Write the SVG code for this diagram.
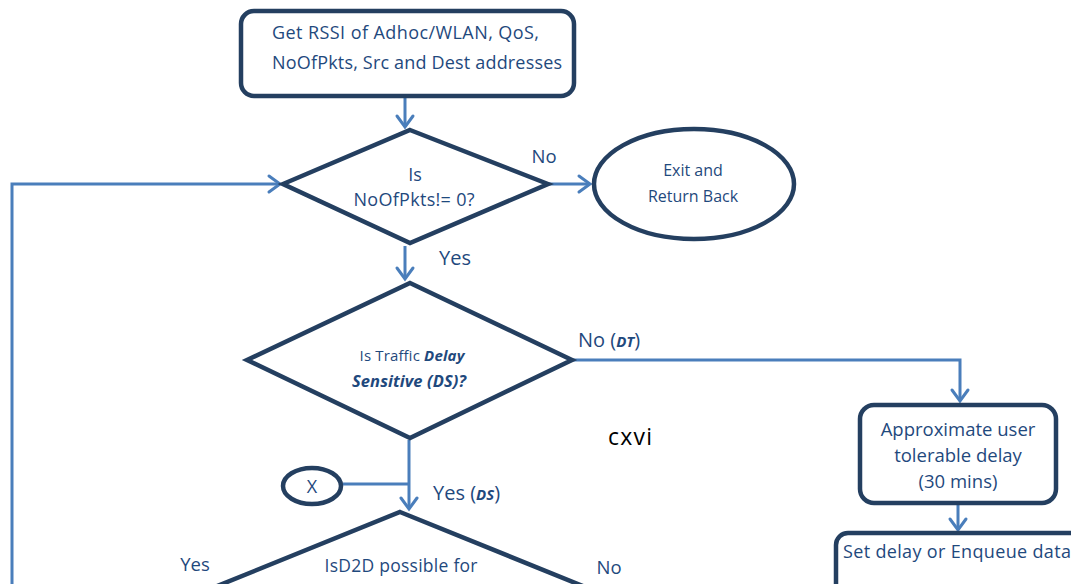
<svg xmlns="http://www.w3.org/2000/svg" width="1071" height="584" viewBox="0 0 1071 584">
  <style>
    .shape { fill: #ffffff; stroke: #243f60; stroke-width: 4.5; stroke-linejoin: miter; }
    .link { fill: none; stroke: #4a7ebb; stroke-width: 3; }
    .txt { font-family: "Open Sans", "Noto Sans", "Liberation Sans", sans-serif; fill: #1f497d; }
    .bi { font-weight: bold; font-style: italic; }
  </style>
  <defs>
    <marker id="arrow" markerUnits="userSpaceOnUse" markerWidth="30" markerHeight="30" viewBox="-15 -15 30 30" refX="0" refY="0" orient="auto">
      <path d="M-11,-8 L0,0 L-11,8" fill="none" stroke="#4a7ebb" stroke-width="3" stroke-linecap="round"/>
    </marker>
  </defs>
  <rect width="1071" height="584" fill="#ffffff"/>

  <!-- connectors -->
  <g id="connectors">
    <path class="link" d="M405,97 V127" marker-end="url(#arrow)"/>
    <path class="link" d="M548,184 H590" marker-end="url(#arrow)"/>
    <path class="link" d="M405,246 V279" marker-end="url(#arrow)"/>
    <path class="link" d="M12,584 V184 H280" marker-end="url(#arrow)"/>
    <path class="link" d="M572,360 H960 V401" marker-end="url(#arrow)"/>
    <path class="link" d="M958,505 V530" marker-end="url(#arrow)"/>
    <path class="link" d="M409,440 V509" marker-end="url(#arrow)"/>
    <path class="link" d="M343,484 H409"/>
  </g>

  <g id="get-rssi">
    <rect class="shape" x="241" y="11" width="333" height="85" rx="13"/>
    <text class="txt" x="272" y="39" font-size="18" textLength="267">Get RSSI of Adhoc/WLAN, QoS,</text>
    <text class="txt" x="272" y="69" font-size="18" textLength="290">NoOfPkts, Src and Dest addresses</text>
  </g>

  <g id="check-pkts">
    <polygon class="shape" points="410,130 548,184 410,243 283,184"/>
    <text class="txt" x="415" y="181" font-size="18" text-anchor="middle">Is</text>
    <text class="txt" x="414" y="206" font-size="18" text-anchor="middle" textLength="121">NoOfPkts!= 0?</text>
    <text class="txt" x="544" y="163" font-size="18.5" text-anchor="middle">No</text>
    <text class="txt" x="455" y="265" font-size="20" text-anchor="middle">Yes</text>
  </g>

  <g id="exit">
    <ellipse class="shape" cx="694" cy="184" rx="100" ry="55"/>
    <text class="txt" x="693" y="176" font-size="16" text-anchor="middle">Exit and</text>
    <text class="txt" x="693" y="202" font-size="16" text-anchor="middle">Return Back</text>
  </g>

  <g id="check-delay">
    <polygon class="shape" points="410,283 572,360 410,438 247,360"/>
    <text class="txt" x="412" y="361" font-size="15" text-anchor="middle" textLength="105">Is Traffic <tspan class="bi">Delay</tspan></text>
    <text class="txt bi" x="409" y="387" font-size="16.5" text-anchor="middle" textLength="114">Sensitive (DS)?</text>
    <text class="txt" x="578" y="347" font-size="20">No (<tspan class="bi" font-size="15">DT</tspan>)</text>
  </g>

  <g id="tolerable-delay">
    <rect class="shape" x="860" y="405" width="196" height="98" rx="14"/>
    <text class="txt" x="958" y="436" font-size="18.5" text-anchor="middle">Approximate user</text>
    <text class="txt" x="958" y="462" font-size="18.5" text-anchor="middle">tolerable delay</text>
    <text class="txt" x="958" y="488" font-size="18.5" text-anchor="middle">(30 mins)</text>
  </g>

  <g id="enqueue">
    <rect class="shape" x="836" y="533" width="250" height="70" rx="12"/>
    <text class="txt" x="843" y="558" font-size="18" textLength="228">Set delay or Enqueue data</text>
  </g>

  <text x="608" y="445" font-family="'Open Sans', 'Liberation Sans', sans-serif" font-size="23" fill="#000000" textLength="44">cxvi</text>

  <g id="connector-x">
    <ellipse class="shape" cx="312" cy="486" rx="29" ry="18"/>
    <text class="txt" x="312" y="493" font-size="18" text-anchor="middle">X</text>
    <text class="txt" x="433" y="500" font-size="20">Yes (<tspan class="bi" font-size="15">DS</tspan>)</text>
  </g>

  <g id="check-d2d">
    <polygon class="shape" points="400,512 600,593 400,680 200,593"/>
    <text class="txt" x="401" y="572" font-size="17.5" text-anchor="middle" textLength="153">IsD2D possible for</text>
    <text class="txt" x="195" y="571" font-size="18.5" text-anchor="middle">Yes</text>
    <text class="txt" x="609" y="574" font-size="18.5" text-anchor="middle">No</text>
  </g>
</svg>
